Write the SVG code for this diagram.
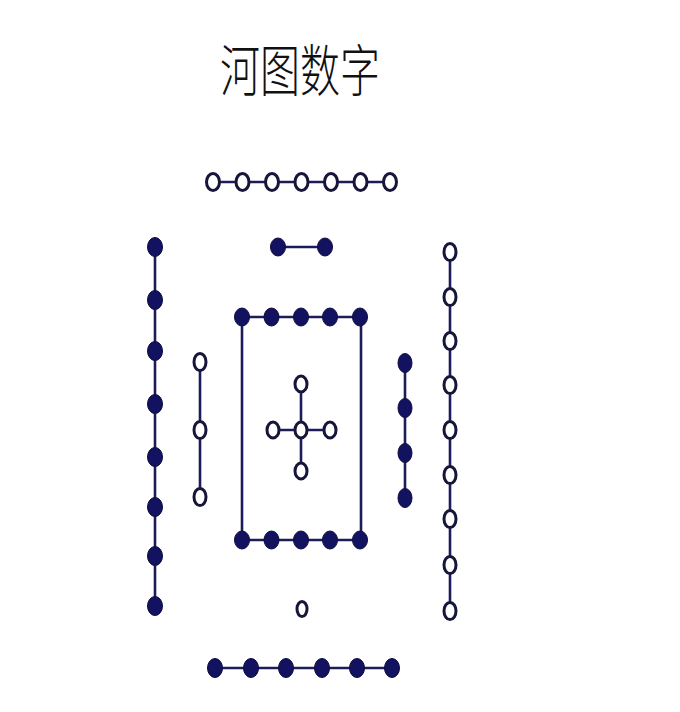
<svg xmlns="http://www.w3.org/2000/svg" width="680" height="712" viewBox="0 0 680 712">
<style>
.ln{stroke:#1c1c58;stroke-width:2.6;fill:none}
.f{fill:#121260;stroke:#0c0c40;stroke-width:1}
.o{fill:#ffffff;stroke:#16163a;stroke-width:3}
.t{font-family:"Noto Sans CJK SC","Noto Sans CJK JP",sans-serif;font-size:40px;font-weight:300;fill:#111}
</style>
<rect width="680" height="712" fill="#ffffff"/>
<text class="t" x="300" y="65" text-anchor="middle" transform="scale(1,1.4)">河图数字</text>
<g id="connectors">
<line class="ln" x1="213" y1="182" x2="390" y2="182"/>
<line class="ln" x1="278" y1="247" x2="325" y2="247"/>
<line class="ln" x1="155" y1="247" x2="155" y2="604"/>
<line class="ln" x1="200" y1="362" x2="200" y2="497"/>
<line class="ln" x1="450" y1="252" x2="450" y2="611"/>
<line class="ln" x1="242" y1="317" x2="361" y2="317"/>
<line class="ln" x1="242" y1="540" x2="361" y2="540"/>
<line class="ln" x1="242" y1="317" x2="242" y2="540"/>
<line class="ln" x1="361" y1="317" x2="361" y2="540"/>
<line class="ln" x1="273" y1="430" x2="330" y2="430"/>
<line class="ln" x1="301" y1="384" x2="301" y2="471"/>
<line class="ln" x1="405" y1="363" x2="405" y2="498"/>
<line class="ln" x1="215" y1="668" x2="392" y2="668"/>
</g>
<g id="top-7-open">
<ellipse class="o" cx="213" cy="182" rx="6.5" ry="8.5"/>
<ellipse class="o" cx="242.5" cy="182" rx="6.5" ry="8.5"/>
<ellipse class="o" cx="272" cy="182" rx="6.5" ry="8.5"/>
<ellipse class="o" cx="301.5" cy="182" rx="6.5" ry="8.5"/>
<ellipse class="o" cx="331" cy="182" rx="6.5" ry="8.5"/>
<ellipse class="o" cx="360.5" cy="182" rx="6.5" ry="8.5"/>
<ellipse class="o" cx="390" cy="182" rx="6.5" ry="8.5"/>
</g>
<g id="top-2-filled">
<ellipse class="f" cx="278" cy="247" rx="7.5" ry="9"/>
<ellipse class="f" cx="325" cy="247" rx="7.5" ry="9"/>
</g>
<g id="left-8-filled">
<ellipse class="f" cx="155" cy="247" rx="7.5" ry="9.5"/>
<ellipse class="f" cx="155" cy="300" rx="7.5" ry="9.5"/>
<ellipse class="f" cx="155" cy="351" rx="7.5" ry="9.5"/>
<ellipse class="f" cx="155" cy="404" rx="7.5" ry="9.5"/>
<ellipse class="f" cx="155" cy="457" rx="7.5" ry="9.5"/>
<ellipse class="f" cx="155" cy="507" rx="7.5" ry="9.5"/>
<ellipse class="f" cx="155" cy="556" rx="7.5" ry="9.5"/>
<ellipse class="f" cx="155" cy="606" rx="7.5" ry="9.5"/>
</g>
<g id="left-3-open">
<ellipse class="o" cx="200" cy="362" rx="6" ry="8.5"/>
<ellipse class="o" cx="200" cy="430" rx="6" ry="8.5"/>
<ellipse class="o" cx="200" cy="497" rx="6" ry="8.5"/>
</g>
<g id="right-9-open">
<ellipse class="o" cx="450" cy="252" rx="6" ry="8.5"/>
<ellipse class="o" cx="450" cy="297" rx="6" ry="8.5"/>
<ellipse class="o" cx="450" cy="341" rx="6" ry="8.5"/>
<ellipse class="o" cx="450" cy="385" rx="6" ry="8.5"/>
<ellipse class="o" cx="450" cy="430" rx="6" ry="8.5"/>
<ellipse class="o" cx="450" cy="475" rx="6" ry="8.5"/>
<ellipse class="o" cx="450" cy="519" rx="6" ry="8.5"/>
<ellipse class="o" cx="450" cy="565" rx="6" ry="8.5"/>
<ellipse class="o" cx="450" cy="611" rx="6" ry="8.5"/>
</g>
<g id="center-top-5-filled">
<ellipse class="f" cx="242" cy="317" rx="7.5" ry="9"/>
<ellipse class="f" cx="271.5" cy="317" rx="7.5" ry="9"/>
<ellipse class="f" cx="301" cy="317" rx="7.5" ry="9"/>
<ellipse class="f" cx="330" cy="317" rx="7.5" ry="9"/>
<ellipse class="f" cx="360" cy="317" rx="7.5" ry="9"/>
</g>
<g id="center-bottom-5-filled">
<ellipse class="f" cx="242" cy="540" rx="7.5" ry="9"/>
<ellipse class="f" cx="271.5" cy="540" rx="7.5" ry="9"/>
<ellipse class="f" cx="301" cy="540" rx="7.5" ry="9"/>
<ellipse class="f" cx="330" cy="540" rx="7.5" ry="9"/>
<ellipse class="f" cx="360" cy="540" rx="7.5" ry="9"/>
</g>
<g id="center-5-open">
<ellipse class="o" cx="301" cy="384" rx="6" ry="8"/>
<ellipse class="o" cx="273" cy="430" rx="6" ry="8"/>
<ellipse class="o" cx="301" cy="430" rx="6" ry="8"/>
<ellipse class="o" cx="330" cy="430" rx="6" ry="8"/>
<ellipse class="o" cx="301" cy="471" rx="6" ry="8"/>
</g>
<g id="right-4-filled">
<ellipse class="f" cx="405" cy="363" rx="7" ry="9.5"/>
<ellipse class="f" cx="405" cy="408" rx="7" ry="9.5"/>
<ellipse class="f" cx="405" cy="453" rx="7" ry="9.5"/>
<ellipse class="f" cx="405" cy="498" rx="7" ry="9.5"/>
</g>
<g id="bottom-1-open">
<ellipse class="o" cx="302" cy="609" rx="5" ry="7.5"/>
</g>
<g id="bottom-6-filled">
<ellipse class="f" cx="215" cy="668" rx="7.5" ry="9.5"/>
<ellipse class="f" cx="251" cy="668" rx="7.5" ry="9.5"/>
<ellipse class="f" cx="286" cy="668" rx="7.5" ry="9.5"/>
<ellipse class="f" cx="322" cy="668" rx="7.5" ry="9.5"/>
<ellipse class="f" cx="357" cy="668" rx="7.5" ry="9.5"/>
<ellipse class="f" cx="392" cy="668" rx="7.5" ry="9.5"/>
</g>
</svg>
